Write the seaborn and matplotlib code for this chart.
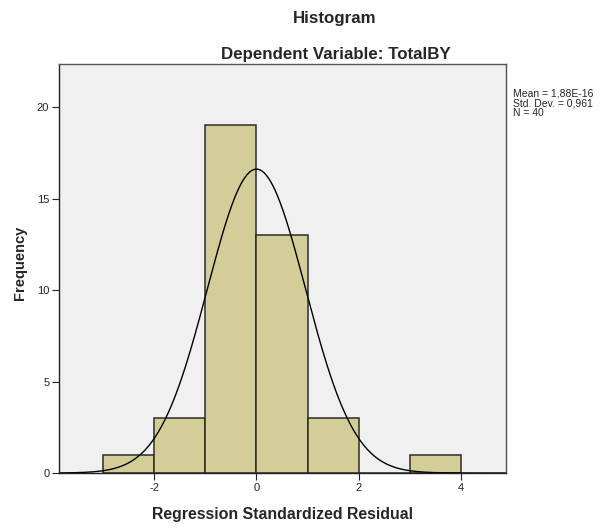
import numpy as np
import seaborn as sns
import matplotlib
matplotlib.use('Agg')
import matplotlib.pyplot as plt

# histogram bins and counts read from the SPSS output
bin_edges = [-3, -2, -1, 0, 1, 2, 3, 4]
counts = [1, 3, 19, 13, 3, 0, 1]
mean_val = 1.88e-16
sd_val = 0.961
n_val = 40
stats_lines = ['Mean = 1,88E-16', 'Std. Dev. = 0,961', 'N = 40']

bin_centers = [(bin_edges[i] + bin_edges[i + 1]) / 2 for i in range(len(counts))]

sns.set_style('ticks')
plt.rcParams['font.family'] = ['Liberation Sans', 'DejaVu Sans']
plt.rcParams['axes.unicode_minus'] = False

W, H = 606, 528
fig = plt.figure(figsize=(W / 100, H / 100), dpi=100)
ax = fig.add_axes([59 / W, 55 / H, 447 / W, 409 / H])
ax.set_facecolor('#f0f0f0')

sns.histplot(x=bin_centers, weights=counts, bins=bin_edges, ax=ax,
             color='#d3ce97', alpha=1, edgecolor='#2b2b2b', linewidth=1.1)

# fitted normal curve (bin width 1)
x_lo, x_hi = -3.87, 4.89
xs = np.linspace(x_lo, x_hi, 400)
ys = n_val * 1.0 * np.exp(-0.5 * ((xs - mean_val) / sd_val) ** 2) / (sd_val * np.sqrt(2 * np.pi))
sns.lineplot(x=xs, y=ys, ax=ax, color='black', linewidth=1)

ax.set_xlim(x_lo, x_hi)
ax.set_ylim(0, 22.35)
ax.set_xticks([-2, 0, 2, 4])
ax.set_yticks([0, 5, 10, 15, 20])
ax.tick_params(labelsize=8, length=5, width=0.8, colors='#222222', direction='out', pad=2)
for s in ax.spines.values():
    s.set_color('#555555')
    s.set_linewidth(1)
ax.spines['left'].set_color('#222222')
ax.spines['bottom'].set_color('#222222')
ax.set_xlabel('')
ax.set_ylabel('')

fig.text(335 / W, 1 - 19 / H, 'Histogram', ha='center', va='center',
         fontsize=12.2, fontweight='bold')
fig.text(336 / W, 1 - 55 / H, 'Dependent Variable: TotalBY', ha='center', va='center',
         fontsize=12.2, fontweight='bold')
fig.text(282.5 / W, 1 - 514 / H, 'Regression Standardized Residual', ha='center', va='center',
         fontsize=11.4, fontweight='bold')
fig.text(20 / W, 1 - 263 / H, 'Frequency', ha='center', va='center', rotation=90,
         fontsize=10.5, fontweight='bold')
for k, line in enumerate(stats_lines):
    fig.text(513 / W, 1 - (93 + 10 * k) / H, line, ha='left', va='center', fontsize=7.5)

fig.savefig('out.png', dpi=100)
